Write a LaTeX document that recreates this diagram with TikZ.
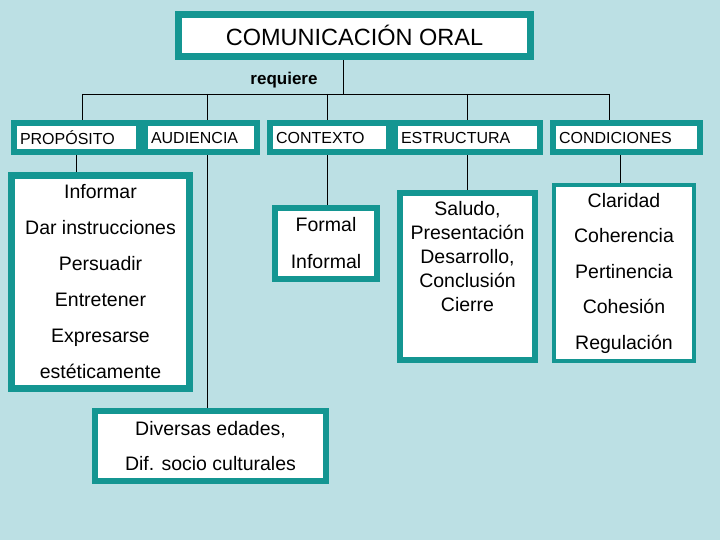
\documentclass[tikz,border=0pt]{standalone}
\usepackage{fontspec}
\setmainfont{Liberation Sans}
\definecolor{bgblue}{RGB}{188,224,228}
\definecolor{tealbox}{RGB}{20,150,146}
\pgfdeclarelayer{bg}
\pgfdeclarelayer{links}
\pgfsetlayers{bg,links,main}

\begin{document}
\begin{tikzpicture}[
  x=1pt,y=-1pt,
  every path/.style={line width=.9pt},
  box/.style={draw=tealbox,fill=white,inner sep=2pt,align=center},
  head/.style={box,line width=6pt,minimum height=29pt,inner xsep=6pt,
    align=left,font=\fontsize{16}{18}\selectfont},
  list/.style={box,line width=6pt,font=\fontsize{19.5}{36}\selectfont}]
  \begin{pgfonlayer}{bg}
    \fill[bgblue] (0,0) rectangle (720,540);
  \end{pgfonlayer}

  % top of the map
  \node[box,line width=7pt,minimum width=352pt,minimum height=42pt,
    font=\fontsize{23.5}{26}\selectfont] (title) at (354.5,35.5) {COMUNICACIÓN ORAL};
  \node[font=\bfseries\fontsize{17}{20}\selectfont] (req) at (284,80) {requiere};

  % the five headings
  \node[head,text width=113pt] (propos) at (76.5,137.5) {PROPÓSITO};
  \node[head,text width=100pt] (audiencia) at (201,137.5) {AUDIENCIA};
  \node[head,text width=107pt] (contexto) at (329.5,137.5) {CONTEXTO};
  \node[head,text width=133pt] (estruct) at (467.5,137.5) {ESTRUCTURA};
  \node[head,text width=135pt] (condic) at (626.5,137.5) {CONDICIONES};

  % what each heading asks for
  \node[list,line width=7pt,minimum width=178pt,minimum height=213pt]
    (proplist) at (100.5,282)
    {Informar\\Dar instrucciones\\Persuadir\\Entretener\\Expresarse\\estéticamente};
  \node[list,minimum width=102pt,minimum height=71pt,
    font=\fontsize{19.5}{37}\selectfont] (formal) at (326,243.5) {Formal\\Informal};
  % text sits at the top of this box
  \node[list,minimum width=135pt,anchor=north,inner ysep=8pt,text depth=40.8pt,
    font=\fontsize{19.5}{24}\selectfont] (estrlist) at (467.5,190)
    {Saludo,\\Presentación\\Desarrollo,\\Conclusión\\Cierre};
  \node[list,line width=4pt,minimum width=140pt,minimum height=176pt,
    font=\fontsize{19.5}{35.5}\selectfont] (condlist) at (624,273)
    {Claridad\\Coherencia\\Pertinencia\\Cohesión\\Regulación};
  \node[list,minimum width=231pt,minimum height=70pt,
    font=\fontsize{19.5}{35}\selectfont] (edades) at (210.5,446)
    {Diversas edades,\\Dif. socio culturales};

  \begin{pgfonlayer}{links}
    \coordinate (hub) at (343,94);
    \draw (title.south -| hub) -- (hub);
    \foreach \n/\x in {propos/82,audiencia/207,contexto/327,estruct/467,condic/609}{
      \coordinate (top\n) at (\x,94);
      \draw (top\n) -- (top\n |- \n.north);
    }
    \draw (toppropos) -- (topcondic);
    \draw (propos.south) -- (propos.south |- proplist.north);
    \draw (topaudiencia |- audiencia.south) -- (topaudiencia |- edades.north);
    \draw (topcontexto |- contexto.south) -- (topcontexto |- formal.north);
    \draw (topestruct |- estruct.south) -- (topestruct |- estrlist.north);
    \coordinate (cdrop) at (620,170);
    \draw (cdrop |- condic.south) -- (cdrop |- condlist.north);
  \end{pgfonlayer}
\end{tikzpicture}
\end{document}
